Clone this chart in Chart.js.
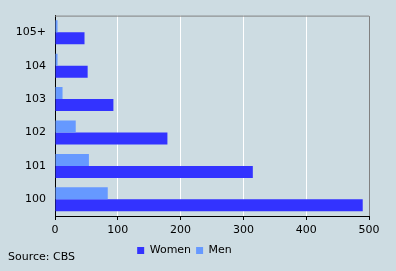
<!DOCTYPE html>
<html><head><meta charset="utf-8">
<script src="https://cdn.jsdelivr.net/npm/chart.js@4/dist/chart.umd.min.js"></script>
<style>
html,body{margin:0;padding:0;background:#cddce2;}
#wrap{position:relative;width:396px;height:271px;}
#src{position:absolute;left:8px;top:250px;font:11px "DejaVu Sans",Verdana,sans-serif;color:#000;line-height:13px;}
</style></head>
<body><div id="wrap"><canvas id="c" width="396" height="271"></canvas><div id="src">Source: CBS</div></div>
<script>
const categories = ['105+','104','103','102','101','100'];
const women = [47, 52, 93, 179, 315, 490];
const men = [4, 4, 12, 33, 54, 84];
const xTicks = [0,100,200,300,400,500];

const frame = {
  id:'frame',
  afterDraw(chart){
    const {ctx, chartArea:a} = chart;
    ctx.save();
    ctx.strokeStyle='#808080'; ctx.lineWidth=1;
    ctx.beginPath();
    ctx.moveTo(a.left, a.top+0.5); ctx.lineTo(a.right+0.5, a.top+0.5); ctx.lineTo(a.right+0.5, a.bottom);
    ctx.stroke();
    ctx.restore();
  }
};

new Chart(document.getElementById('c'), {
  type:'bar',
  data:{labels:categories, datasets:[
    {label:'Men', data:men, backgroundColor:'#6699ff', categoryPercentage:0.72, barPercentage:1},
    {label:'Women', data:women, backgroundColor:'#3333ff', categoryPercentage:0.72, barPercentage:1}
  ]},
  options:{
    indexAxis:'y', responsive:false, animation:false,
    layout:{padding:{top:15,right:27,left:0,bottom:5}},
    plugins:{
      legend:{position:'bottom', reverse:true,
        labels:{boxWidth:7, boxHeight:7, padding:5, color:'#000', font:{family:'DejaVu Sans', size:11}}},
      tooltip:{enabled:false}
    },
    scales:{
      x:{min:0,max:500, afterBuildTicks(s){s.ticks=xTicks.map(v=>({value:v}));},
        ticks:{color:'#000', font:{family:'DejaVu Sans', size:11}, padding:4, maxRotation:0},
        grid:{color:'#ffffff', tickColor:'#000', tickLength:4, lineWidth:1},
        border:{color:'#000', width:1},
        afterFit(s){s.height=24;}},
      y:{ticks:{color:'#000', font:{family:'DejaVu Sans', size:11}, padding:9},
        grid:{drawOnChartArea:false, drawTicks:false, color:'rgba(0,0,0,0)'},
        border:{color:'#000', width:1},
        afterFit(s){s.width=55;}}
    }
  },
  plugins:[frame]
});
</script></body></html>
